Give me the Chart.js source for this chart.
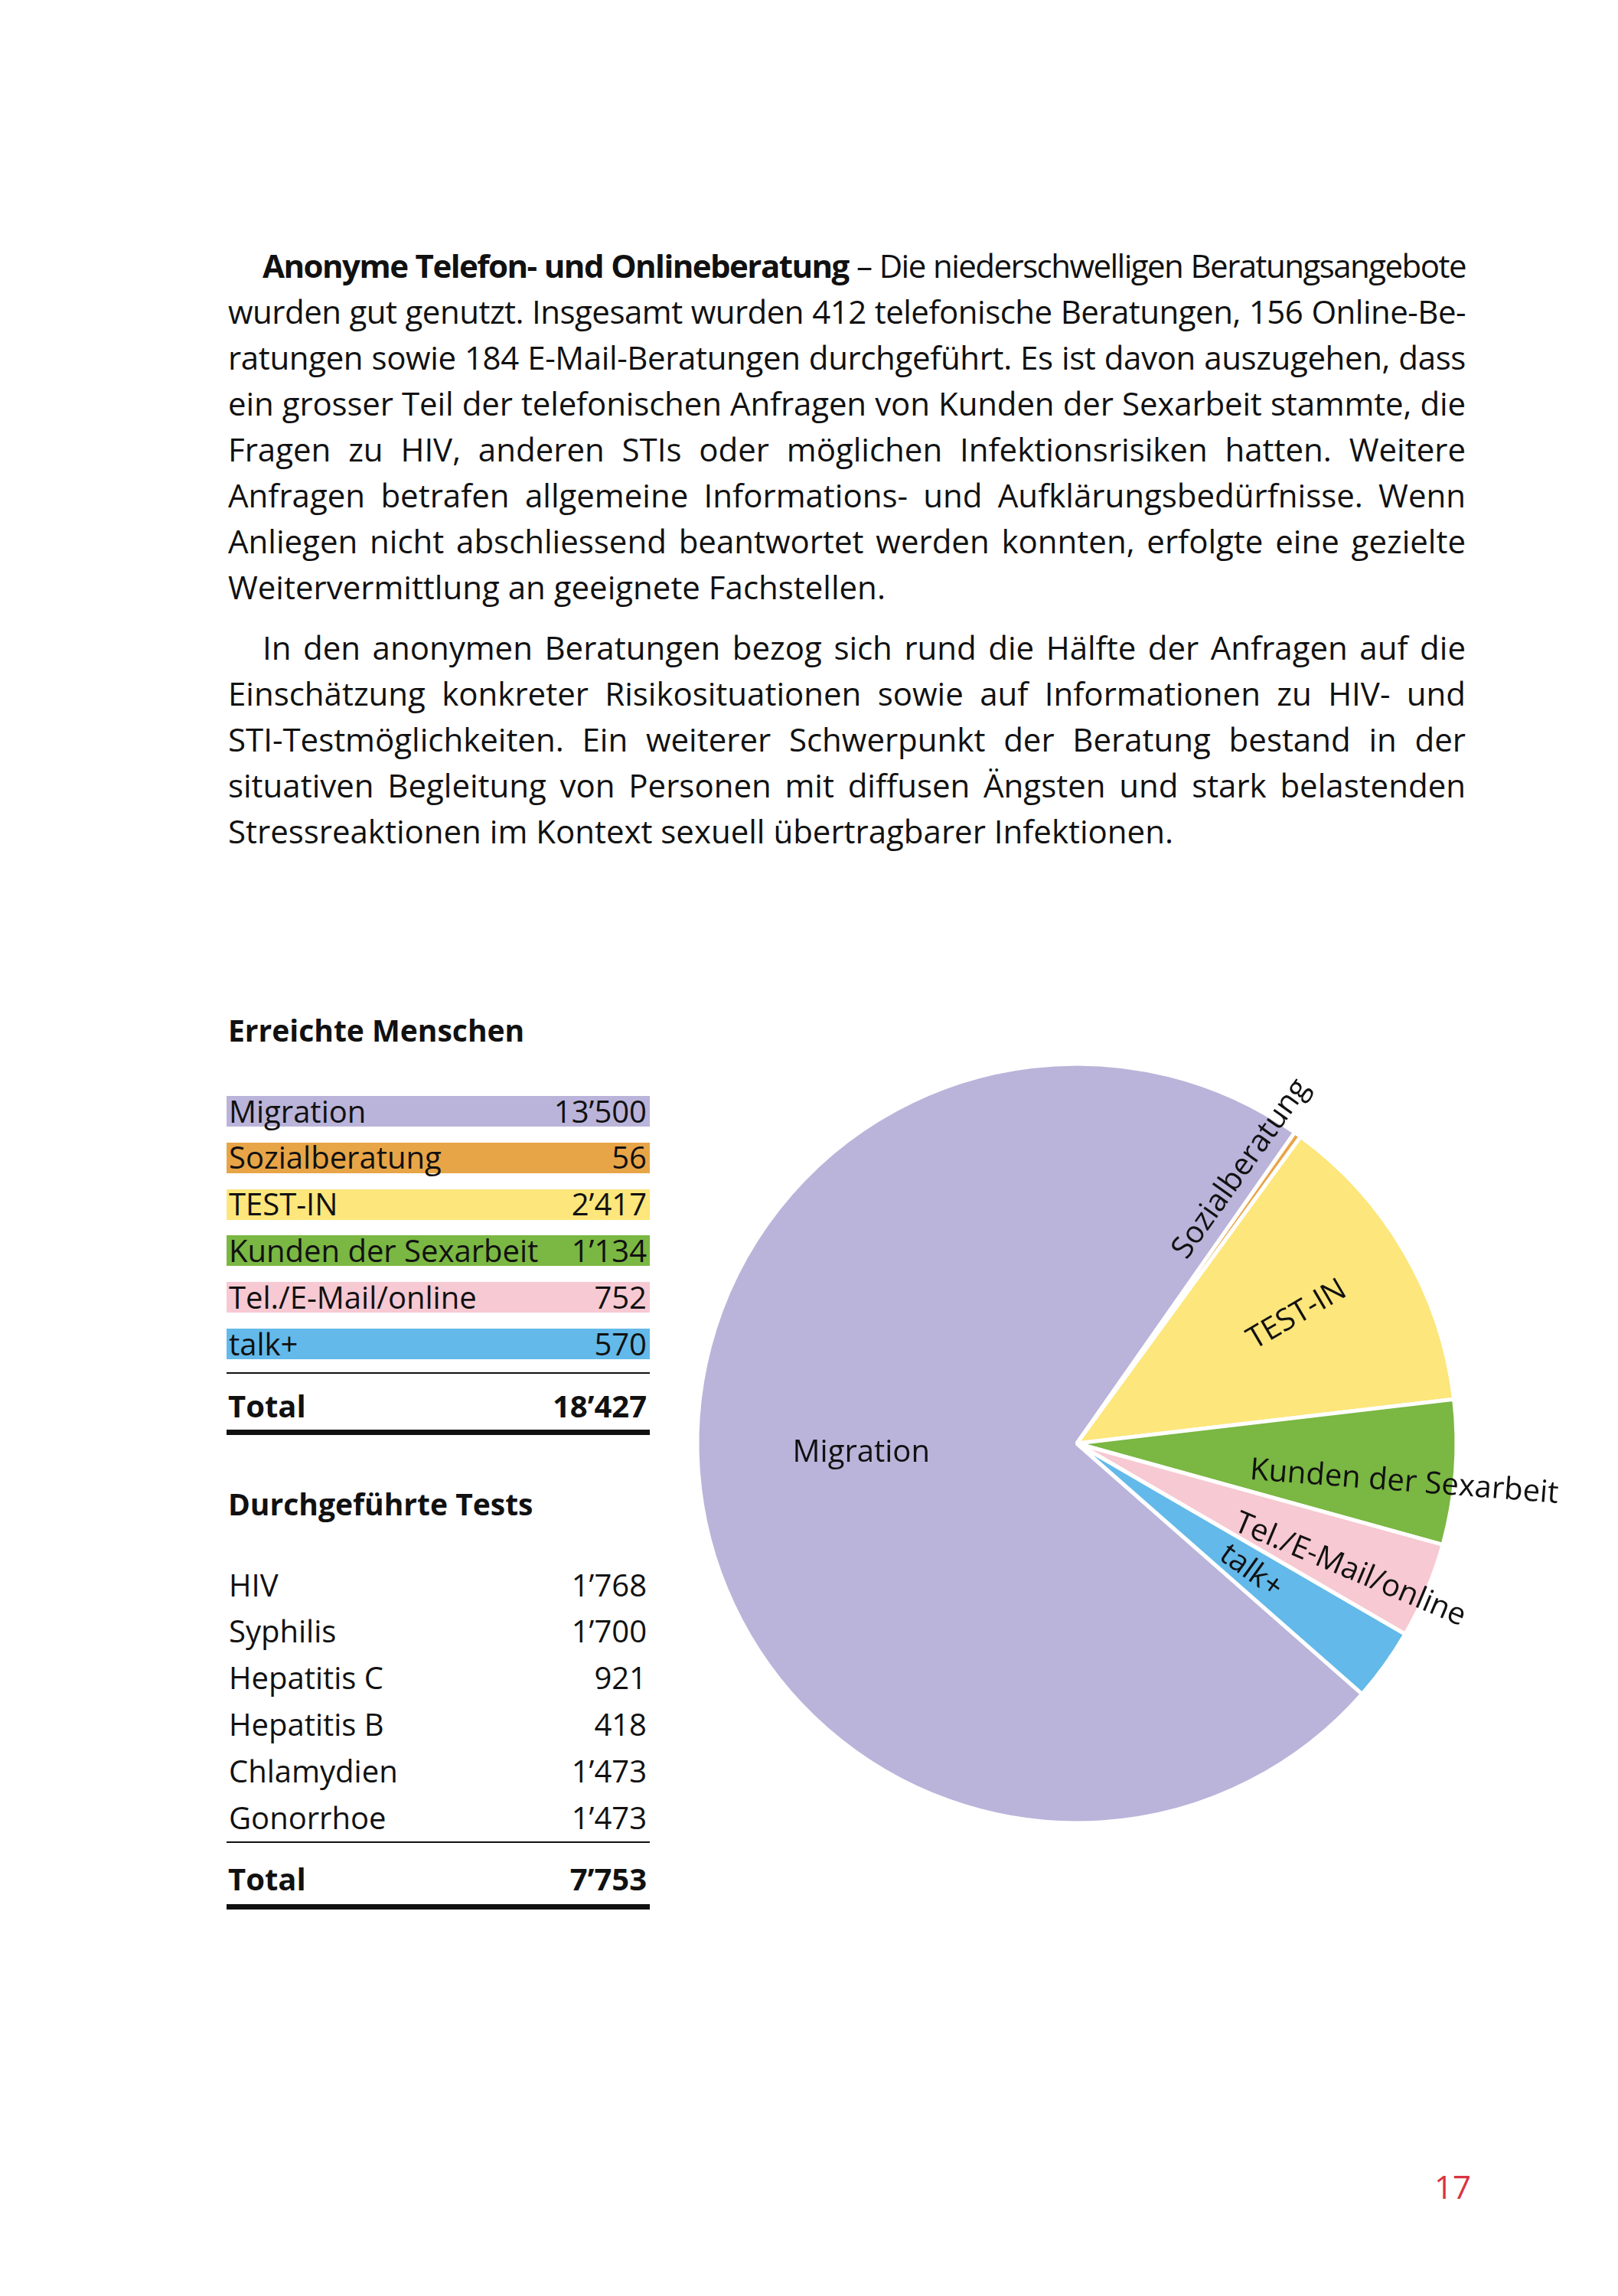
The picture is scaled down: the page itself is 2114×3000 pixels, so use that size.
<!DOCTYPE html>
<html>
<head>
<meta charset="utf-8">
<script src="https://cdn.jsdelivr.net/npm/chart.js@4.4.1/dist/chart.umd.min.js"></script>
<style>
  html, body { margin: 0; padding: 0; background: #fff; }
  #page { position: relative; width: 2114px; height: 3000px; overflow: hidden; color: #111; }
  #page div { position: absolute; }
</style>
</head>
<body>
<div id="page">
  <canvas id="pie" width="1200" height="1100" style="position:absolute;left:880px;top:1340px;width:1200px;height:1100px;"></canvas>
</div>
<script>
// ---- data ----
const categories = ['Migration', 'Sozialberatung', 'TEST-IN', 'Kunden der Sexarbeit', 'Tel./E-Mail/online', 'talk+'];
const reached = [13500, 56, 2417, 1134, 752, 570];
const reachedTotal = 18427;
const sliceColors = ['#bab4da', '#e8a547', '#fde67b', '#7ab743', '#f7c9d2', '#63b9e9'];

const testNames = ['HIV', 'Syphilis', 'Hepatitis C', 'Hepatitis B', 'Chlamydien', 'Gonorrhoe'];
const testCounts = [1768, 1700, 921, 418, 1473, 1473];
const testTotal = 7753;

const para1 = [
  'Die niederschwelligen Beratungsangebote',
  'wurden gut genutzt. Insgesamt wurden 412 telefonische Beratungen, 156 Online-Be-',
  'ratungen sowie 184 E-Mail-Beratungen durchgeführt. Es ist davon auszugehen, dass',
  'ein grosser Teil der telefonischen Anfragen von Kunden der Sexarbeit stammte, die',
  'Fragen zu HIV, anderen STIs oder möglichen Infektionsrisiken hatten. Weitere',
  'Anfragen betrafen allgemeine Informations- und Aufklärungsbedürfnisse. Wenn',
  'Anliegen nicht abschliessend beantwortet werden konnten, erfolgte eine gezielte',
  'Weitervermittlung an geeignete Fachstellen.'
];
const para1Lead = 'Anonyme Telefon- und Onlineberatung';
const para2 = [
  'In den anonymen Beratungen bezog sich rund die Hälfte der Anfragen auf die',
  'Einschätzung konkreter Risikosituationen sowie auf Informationen zu HIV- und',
  'STI-Testmöglichkeiten. Ein weiterer Schwerpunkt der Beratung bestand in der',
  'situativen Begleitung von Personen mit diffusen Ängsten und stark belastenden',
  'Stressreaktionen im Kontext sexuell übertragbarer Infektionen.'
];

// ---- text helpers ----
const FONT = "'Open Sans', sans-serif";
const page = document.getElementById('page');
const meas = document.createElement('canvas').getContext('2d');

function fmt(n) {
  return String(n).replace(/\B(?=(\d{3})+(?!\d))/g, '\u2019');
}

function topFor(size, weight, baseline, lh) {
  meas.font = weight + ' ' + size + 'px ' + FONT;
  const m = meas.measureText('Hg');
  const a = m.fontBoundingBoxAscent, d = m.fontBoundingBoxDescent;
  return baseline - ((lh - (a + d)) / 2 + a);
}

function put(html, x, baseline, o) {
  o = o || {};
  const size = o.size || 40, weight = o.weight || 400, lh = Math.round(size * 1.4);
  const el = document.createElement('div');
  el.style.top = topFor(size, weight, baseline, lh) + 'px';
  el.style.font = weight + ' ' + size + 'px ' + FONT;
  el.style.lineHeight = lh + 'px';
  el.style.whiteSpace = 'nowrap';
  if (o.color) el.style.color = o.color;
  if (o.right) el.style.right = (2114 - x) + 'px';
  else el.style.left = x + 'px';
  if (o.width) {
    el.style.width = o.width + 'px';
    el.style.whiteSpace = 'normal';
    el.style.textAlign = 'justify';
    el.style.textAlignLast = o.justify ? 'justify' : 'left';
  }
  el.innerHTML = html;
  page.appendChild(el);
  return el;
}

function rule(x, y, w, h) {
  const el = document.createElement('div');
  el.style.cssText = 'left:' + x + 'px;top:' + y + 'px;width:' + w + 'px;height:' + h + 'px;background:#111;';
  page.appendChild(el);
}

// ---- body text ----
const TXT = 42, TX = 298, TW = 1617, INDENT = 45, LEAD = 60;

function natural(str, weight) {
  meas.font = (weight || 400) + ' ' + TXT + 'px ' + FONT;
  return meas.measureText(str).width;
}

function paragraph(lines, firstBase, lead) {
  lines.forEach((line, i) => {
    const x = i === 0 ? TX + INDENT : TX;
    const w = i === 0 ? TW - INDENT : TW;
    let html = line, nat = natural(line), chars = line.length;
    if (i === 0 && lead) {
      html = '<b>' + lead + '</b> \u2013 ' + line;
      nat = natural(lead, 700) + natural(' \u2013 ' + line);
      chars = lead.length + 3 + line.length;
    }
    const el = put(html, x, firstBase + i * LEAD, { size: TXT, width: w, justify: i < lines.length - 1 });
    // squeeze a little when the line would not fit the column
    if (nat > w - 6) el.style.letterSpacing = ((w - 6 - nat) / chars).toFixed(2) + 'px';
  });
}
paragraph(para1, 363, para1Lead);
paragraph(para2, 862, null);

// ---- tables ----
const TAB_X = 296, TAB_W = 553, ROW = 60.8, CELL = 40;

put('Erreichte Menschen', 298, 1361, { size: 39, weight: 700 });
categories.forEach((c, i) => {
  const bar = document.createElement('div');
  bar.style.cssText = 'left:' + TAB_X + 'px;top:' + (1432 + i * ROW) + 'px;width:' + TAB_W + 'px;height:' + CELL + 'px;background:' + sliceColors[i] + ';';
  page.appendChild(bar);
  put(c, 299, 1467 + i * ROW, { size: CELL });
  put(fmt(reached[i]), 845, 1467 + i * ROW, { size: CELL, right: true });
});
rule(TAB_X, 1793, TAB_W, 2);
put('Total', 298, 1852, { size: CELL, weight: 700 });
put(fmt(reachedTotal), 845, 1852, { size: CELL, weight: 700, right: true });
rule(TAB_X, 1868, TAB_W, 7);

put('Durchgeführte Tests', 298, 1980, { size: 39, weight: 700 });
testNames.forEach((t, i) => {
  put(t, 299, 2086 + i * ROW, { size: CELL });
  put(fmt(testCounts[i]), 845, 2086 + i * ROW, { size: CELL, right: true });
});
rule(TAB_X, 2406, TAB_W, 2);
put('Total', 298, 2470, { size: CELL, weight: 700 });
put(fmt(testTotal), 845, 2470, { size: CELL, weight: 700, right: true });
rule(TAB_X, 2488, TAB_W, 7);

put('17', 1922, 2873, { size: 42, color: '#d9343f', right: true });

// ---- pie ----
// radial: text starts at along*r on the slice's middle angle, shifted sideways by shift px
const labelPlace = [
  { flat: true, dx: -0.568, dy: 0.049 },
  { along: 0.56, shift: -34 },
  { along: 0.528, shift: 0 },
  { along: 0.46, shift: 18 },
  { along: 0.466, shift: 14 },
  { along: 0.478, shift: 3 }
];

const sliceLabels = {
  id: 'sliceLabels',
  afterDatasetsDraw(chart) {
    const ctx = chart.ctx;
    const meta = chart.getDatasetMeta(0);
    ctx.save();
    ctx.font = CELL + 'px ' + FONT;
    ctx.fillStyle = '#111';
    meta.data.forEach((arc, i) => {
      const p = arc.getProps(['x', 'y', 'startAngle', 'endAngle', 'outerRadius'], true);
      const mid = (p.startAngle + p.endAngle) / 2;
      const lp = labelPlace[i];
      ctx.save();
      ctx.translate(p.x, p.y);
      if (lp.flat) {
        ctx.textAlign = 'center';
        ctx.textBaseline = 'alphabetic';
        ctx.fillText(categories[i], lp.dx * p.outerRadius, lp.dy * p.outerRadius);
      } else {
        ctx.rotate(mid);
        ctx.textAlign = 'left';
        ctx.textBaseline = 'middle';
        ctx.fillText(categories[i], lp.along * p.outerRadius, lp.shift);
      }
      ctx.restore();
    });
    ctx.restore();
  }
};

new Chart(document.getElementById('pie'), {
  type: 'pie',
  data: {
    labels: categories,
    datasets: [{
      data: reached,
      backgroundColor: sliceColors,
      borderColor: '#ffffff',
      borderWidth: 5
    }]
  },
  options: {
    responsive: false,
    animation: false,
    devicePixelRatio: 1,
    rotation: 131.3,
    radius: 496,
    events: [],
    layout: { padding: { left: 0, right: 146, top: 0, bottom: 8 } },
    plugins: { legend: { display: false }, tooltip: { enabled: false } }
  },
  plugins: [sliceLabels]
});
</script>
</body>
</html>
